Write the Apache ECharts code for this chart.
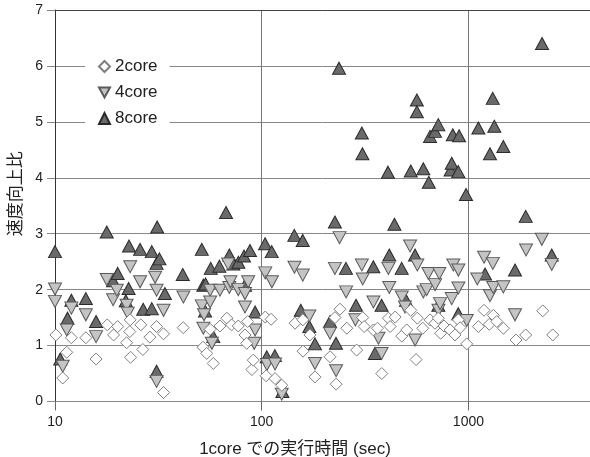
<!DOCTYPE html>
<html><head><meta charset="utf-8">
<script src="https://cdn.jsdelivr.net/npm/echarts@6/dist/echarts.min.js"></script>
<style>html,body{margin:0;padding:0;background:#fff}#c{width:590px;height:457px}</style>
</head><body><div id="c"></div>
<script>
const seriesNames = ['2core', '4core', '8core'];
const xTickLabels = [10, 100, 1000];
const yMin = 0, yMax = 7, yStep = 1;
const xMin = 10, xMax = 3873;
const xAxisTitle = '1core での実行時間 (sec)';
const yAxisTitle = '速度向上比';

// 2core
const x2 = [10.1,10.9,11.4,12.0,14.1,15.8,17.9,19.2,20.1,22.2,23.0,23.1,23.2,26.0,26.6,28.8,31.0,33.5,33.5,41.7,52,54.2,56.3,58.3,62.8,67.8,71.5,77.0,83.0,84.6,85.5,89.6,91.0,
  104,111,105,116,125,145,158,158.5,171,181,214,229,239,226,258,288,308,313,347,363,381,410,418,442,476,503,526,558,566,601,652,689,715,734,762,815,861,894,911,981,1117,1189,1262,1320,1371,1476,1699,1892,2288,2557];
const y2 = [1.19,0.42,0.88,1.14,1.14,0.76,1.37,1.19,1.34,1.05,1.25,1.46,0.79,1.37,0.93,1.15,1.34,1.21,0.16,1.32,0.97,0.86,1.29,0.68,1.35,1.49,1.37,1.35,1.19,1.04,1.43,0.57,0.74,
  1.51,1.47,0.46,0.41,0.29,1.40,1.46,0.90,1.19,0.44,0.80,0.31,1.65,1.50,1.31,0.92,1.50,1.34,1.28,1.31,0.50,1.49,1.34,1.51,1.17,1.28,1.63,0.75,1.49,1.31,1.46,1.40,1.49,1.22,1.35,1.28,1.19,1.46,1.32,1.03,1.34,1.63,1.38,1.54,1.43,1.31,1.10,1.19,1.62,1.19];

// 4core
const x4 = [10,10,10.9,11.4,12.0,14.1,15.8,17.8,19.1,19.9,22.2,22.5,23.1,25.8,30.5,31.0,31.0,33.5,41.8,51.3,52.6,52.2,56.3,56.3,57.4,62.8,68.8,69.7,70.6,77.0,83.0,86.0,83.0,92.9,92.0,
  104,112,106,116,125,144,158,170,214,181,229,238,226,305,308,256,284,347,367,380,410,414,476,493,522,552,566,605,628,640,690,716,723,729,830,845,894,894,981,1104,1190,1271,1312,1318,1475,1680,1900,2265,2529];
const y4 = [2.01,1.79,0.63,1.28,1.67,1.55,1.16,2.18,1.82,1.99,1.72,1.58,2.41,2.14,2.22,1.99,0.36,1.63,1.87,1.71,1.55,1.31,1.99,1.78,1.04,1.99,2.46,2.04,2.14,2.00,1.93,2.14,1.69,1.28,1.04,
  2.30,2.14,0.66,0.67,0.13,2.40,2.26,1.53,1.22,0.68,0.55,2.93,2.38,2.44,2.19,1.96,1.46,1.78,1.13,0.86,2.38,2.04,1.87,1.69,2.78,1.10,2.44,1.96,2.00,2.29,2.09,1.63,2.29,1.75,1.84,2.44,2.35,2.03,1.45,2.19,2.58,1.89,2.47,2.04,2.05,1.55,2.71,2.90,2.45];

// 8core
const x8 = [10,10.6,11.5,12.0,14.1,15.8,17.8,19.1,20.1,22.0,22.7,22.8,25.8,26.7,29.4,29.4,31.2,31.0,32.0,31.0,34.0,41.5,51.3,52.2,53.5,53.2,56.7,58.3,62.4,67.2,69.7,72.9,77.1,82.1,87.7,83.0,92.9,
  103.8,111.8,105.7,115.8,125.9,143.8,157.9,154.5,170,181,214,226,228.7,236.6,255.6,285.9,305,307,346.7,353,380,408,414,438.5,475.5,499,526,551.6,563,563,605,643,652,689,715,715,820,830,840,893,901,893,973,1117,1203,1271,1311,1334,1475,1680,1893,2270,2529];
const y8 = [2.68,0.76,1.49,1.81,1.84,1.43,3.03,2.16,2.29,1.80,2.02,2.78,2.72,1.65,2.68,1.66,3.12,2.47,2.55,0.54,1.93,2.27,2.72,2.08,2.10,1.62,2.38,1.16,2.42,3.38,2.62,2.46,2.49,2.60,2.70,2.08,1.60,
  2.82,2.68,0.80,0.82,0.18,2.97,2.88,1.63,1.34,1.03,1.43,3.21,1.04,5.96,2.38,1.72,4.80,4.43,2.41,0.86,1.72,4.10,2.62,3.17,2.38,1.81,4.12,2.62,5.39,5.18,4.16,3.92,4.74,4.83,4.95,1.72,4.14,4.26,4.77,4.11,4.75,1.57,3.70,4.89,2.28,4.43,5.42,4.92,4.56,2.35,3.31,6.40,2.62];

const zip = (xs, ys) => xs.map((x, i) => [x, ys[i]]);
const FONT = '"Liberation Sans", Arial, "Noto Sans CJK JP", sans-serif';

const chart = echarts.init(document.getElementById('c'), null, {renderer: 'canvas'});
chart.setOption({
  animation: false,
  backgroundColor: '#ffffff',
  textStyle: {fontFamily: FONT},
  grid: {left: 55, right: 0, top: 10, bottom: 55.5, containLabel: false, outerBoundsMode: 'none'},
  legend: {
    data: seriesNames,
    orient: 'vertical',
    left: 85, top: 53,
    itemWidth: 11, itemHeight: 11, itemGap: 9,
    padding: [5, 12, 5, 13],
    backgroundColor: '#ffffff',
    textStyle: {fontSize: 17, color: '#222', fontFamily: FONT},
    selectedMode: false
  },
  xAxis: [{
    type: 'log', logBase: 10, min: xMin, max: xMax,
    name: xAxisTitle, nameLocation: 'middle', nameGap: 39,
    nameTextStyle: {fontSize: 17, color: '#222', fontFamily: FONT, padding: [0, 55, 0, 0]},
    axisLine: {show: true, lineStyle: {color: '#888', width: 1}},
    axisTick: {show: true, inside: false, length: 9, lineStyle: {color: '#666'}},
    axisLabel: {fontSize: 14, color: '#222', margin: 14,
      formatter: v => { const r = Math.round(v); return xTickLabels.indexOf(r) >= 0 ? String(r) : ''; }},
    splitLine: {show: true, lineStyle: {color: '#777', width: 1}},
    minorTick: {show: false}, minorSplitLine: {show: false}
  }, {
    type: 'log', logBase: 10, min: xMin, max: xMax, position: 'top',
    axisLine: {show: true, lineStyle: {color: '#444', width: 1}},
    axisTick: {show: false}, axisLabel: {show: false}, splitLine: {show: false}
  }],
  yAxis: {
    type: 'value', min: yMin, max: yMax, interval: yStep,
    name: yAxisTitle, nameLocation: 'middle', nameGap: 30, nameRotate: 90,
    nameTextStyle: {fontSize: 17, color: '#222', fontFamily: FONT, padding: [0, 0, 0, 24]},
    axisLine: {show: true, lineStyle: {color: '#333', width: 1}},
    axisTick: {show: true, inside: false, length: 8, lineStyle: {color: '#888'}},
    axisLabel: {fontSize: 14, color: '#222', margin: 12},
    splitLine: {show: true, lineStyle: {color: '#888', width: 1}}
  },
  series: [{
    name: '8core', type: 'scatter', data: zip(x8, y8),
    symbol: 'triangle', symbolSize: [13, 12],
    itemStyle: {color: '#6a6a6a', borderColor: '#2a2a2a', borderWidth: 1, opacity: 1},
    emphasis: {disabled: true}, silent: true
  }, {
    name: '4core', type: 'scatter', data: zip(x4, y4),
    symbol: 'path://M0,0L10,0L5,9Z', symbolSize: [13, 12],
    itemStyle: {color: '#c4c4c4', borderColor: '#5a5a5a', borderWidth: 1, opacity: 1},
    emphasis: {disabled: true}, silent: true
  }, {
    name: '2core', type: 'scatter', data: zip(x2, y2),
    symbol: 'diamond', symbolSize: [12, 12],
    itemStyle: {color: '#ffffff', borderColor: '#7f7f7f', borderWidth: 1, opacity: 1},
    emphasis: {disabled: true}, silent: true
  }]
});
</script>
</body></html>
